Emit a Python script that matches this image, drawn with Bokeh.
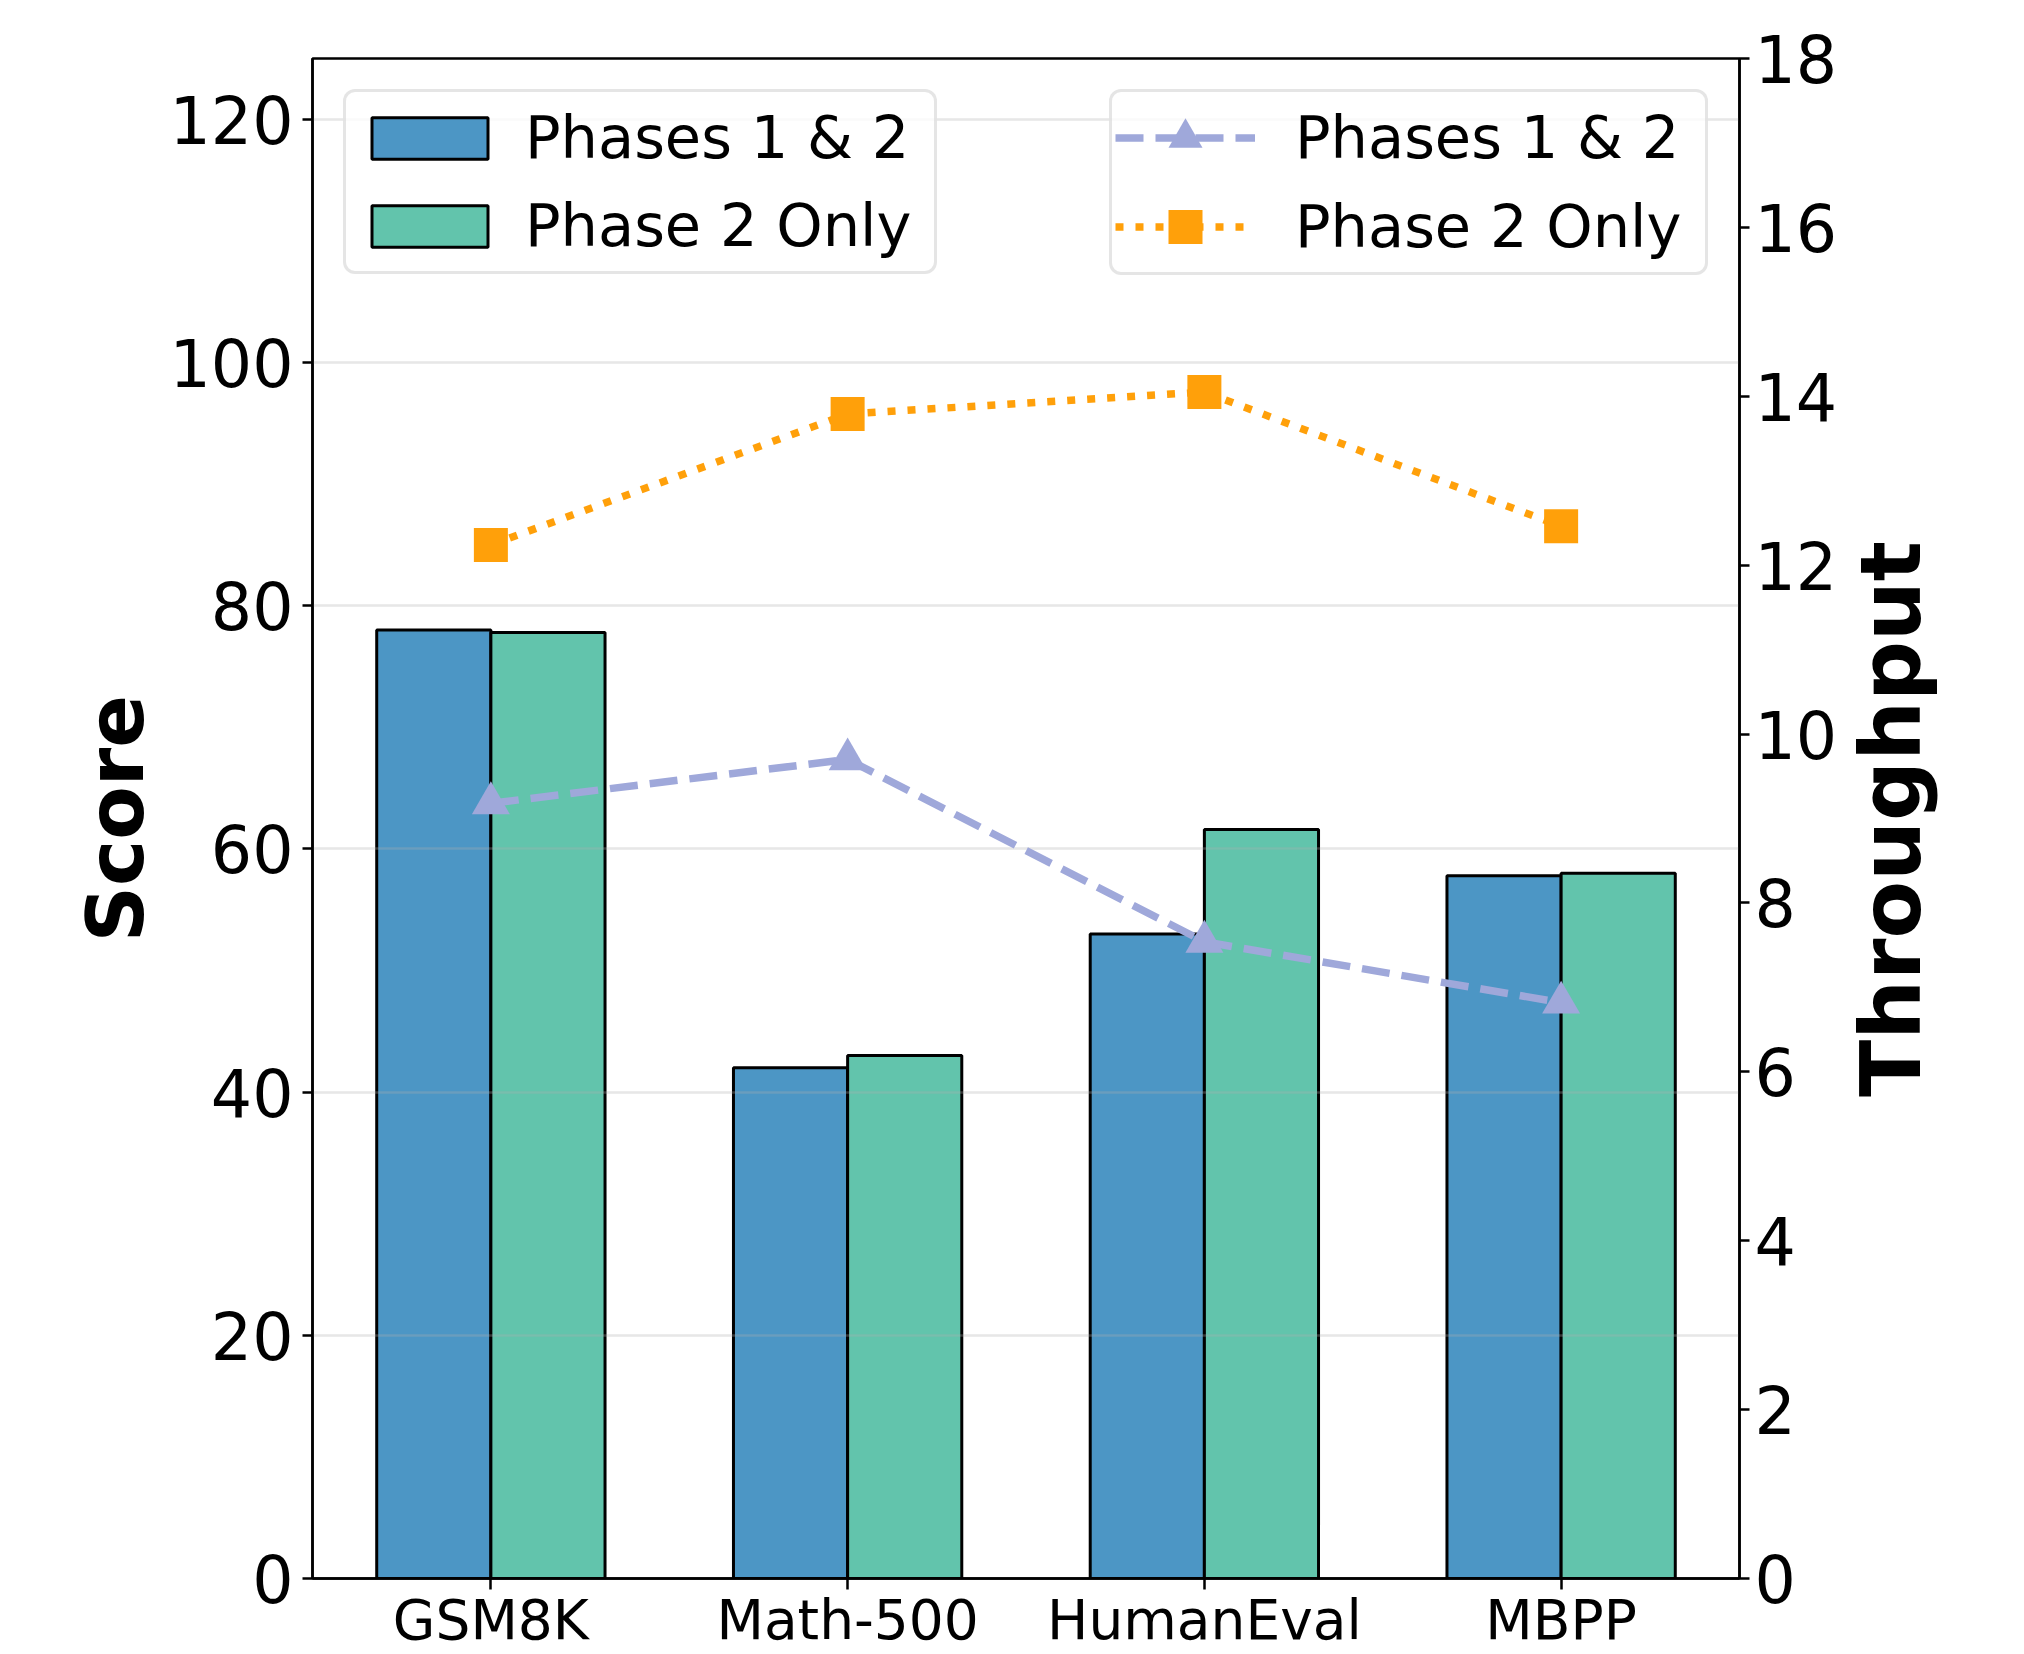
import math
from bokeh.plotting import figure
from bokeh.layouts import row
from bokeh.models import (Range1d, FactorRange, LinearAxis, Legend, LegendItem,
                          ColumnDataSource, FixedTicker, Label)
from bokeh.transform import dodge
from bokeh.embed import file_html
from bokeh.resources import INLINE

categories = ["GSM8K", "Math-500", "HumanEval", "MBPP"]
score_phases12 = [78.0, 42.0, 53.0, 57.8]
score_phase2 = [77.8, 43.0, 61.6, 58.0]
thr_phases12 = [9.18, 9.70, 7.54, 6.82]
thr_phase2 = [12.24, 13.79, 14.05, 12.46]
score_ticks = [0, 20, 40, 60, 80, 100, 120]
thr_ticks = [0, 2, 4, 6, 8, 10, 12, 14, 16, 18]
series_labels = ["Phases 1 & 2", "Phase 2 Only"]

FONT = "DejaVu Sans"
BLUE = "#4c96c5"
GREEN = "#62c4ac"
LAVENDER = "#9fa8da"
ORANGE = "#ffa00a"

src = ColumnDataSource(dict(cat=categories, s12=score_phases12, s2=score_phase2,
                            t12=thr_phases12, t2=thr_phase2))

W, H = 1840, 1654
FRAME_L, FRAME_R, FRAME_T, FRAME_B = 312, 1742, 58, 1581
p = figure(width=W, height=H,
           x_range=FactorRange(*categories, range_padding=0, factor_padding=0),
           y_range=Range1d(0, 125),
           output_backend="svg", toolbar_location=None,
           min_border_left=FRAME_L, min_border_right=W - FRAME_R,
           min_border_top=FRAME_T, min_border_bottom=H - FRAME_B)
p.extra_y_ranges = {"thr": Range1d(0, 18)}

p.outline_line_color = "black"
p.outline_line_width = 2.5
p.background_fill_color = "white"

# bars
r1 = p.vbar(x=dodge("cat", -0.16, range=p.x_range), top="s12", width=0.32, source=src,
            fill_color=BLUE, line_color="black", line_width=3, level="underlay")
r2 = p.vbar(x=dodge("cat", 0.16, range=p.x_range), top="s2", width=0.32, source=src,
            fill_color=GREEN, line_color="black", line_width=3, level="underlay")

# lines
l1 = p.line(x="cat", y="t12", source=src, y_range_name="thr", line_color=LAVENDER,
            line_width=7.5, line_dash="28 12", level="guide")
m1 = p.scatter(x="cat", y="t12", source=src, y_range_name="thr", marker="triangle",
               size=38, fill_color=LAVENDER, line_color=LAVENDER, line_width=0, level="guide")
l2 = p.line(x="cat", y="t2", source=src, y_range_name="thr", line_color=ORANGE,
            line_width=7.5, line_dash="8 12", level="guide")
m2 = p.scatter(x="cat", y="t2", source=src, y_range_name="thr", marker="square",
               size=34, fill_color=ORANGE, line_color=ORANGE, line_width=0, level="guide")

# grid
p.xgrid.visible = False
p.ygrid.ticker = FixedTicker(ticks=score_ticks)
p.ygrid.grid_line_color = "#b0b0b0"
p.ygrid.grid_line_alpha = 0.3
p.ygrid.grid_line_width = 2.5
p.ygrid.level = "glyph"

# left axis
ax_l = p.left[0]
ax_l.ticker = FixedTicker(ticks=score_ticks)
ax_l.axis_label = "Score"
ax_l.axis_label_text_font = FONT
ax_l.axis_label_text_font_style = "bold"
ax_l.axis_label_text_font_size = "78px"
ax_l.axis_label_text_color = "black"
ax_l.axis_label_standoff = 5
ax_l.major_label_text_font = FONT
ax_l.major_label_text_font_size = "65px"
ax_l.major_label_text_color = "black"
ax_l.major_label_standoff = 9

# right axis
ax_r = LinearAxis(y_range_name="thr", ticker=FixedTicker(ticks=thr_ticks))
ax_r.major_label_text_font = FONT
ax_r.major_label_text_font_size = "65px"
ax_r.major_label_text_color = "black"
ax_r.major_label_standoff = 5
p.add_layout(ax_r, "right")

for ax in (ax_l, ax_r):
    ax.axis_line_width = 2.5
    ax.axis_line_color = "black"
    ax.major_tick_line_width = 2.5
    ax.major_tick_line_color = "black"
    ax.major_tick_out = 10
    ax.major_tick_in = 0
    ax.minor_tick_line_color = None

# x axis
ax_b = p.below[0]
ax_b.major_label_text_font = FONT
ax_b.major_label_text_font_size = "55px"
ax_b.major_label_text_color = "black"
ax_b.major_label_standoff = -2
ax_b.axis_line_width = 2.5
ax_b.major_tick_line_width = 2.5
ax_b.major_tick_out = 11
ax_b.major_tick_in = 0
ax_b.minor_tick_line_color = None


def style_legend(lg, pad, gw, gh, standoff, spacing, label_w):
    lg.label_text_font = FONT
    lg.label_text_font_size = "59px"
    lg.label_text_color = "black"
    lg.glyph_width = gw
    lg.glyph_height = gh
    lg.label_standoff = standoff
    lg.label_width = label_w
    lg.padding = pad
    lg.spacing = spacing
    lg.margin = 31
    lg.border_line_color = "#cccccc"
    lg.border_line_width = 3
    lg.background_fill_color = "white"
    lg.background_fill_alpha = 0.8
    if "border_radius" in Legend.properties():
        lg.border_radius = 12


leg_bars = Legend(items=[LegendItem(label=series_labels[0], renderers=[r1]),
                         LegendItem(label=series_labels[1], renderers=[r2])],
                  location="top_left")
style_legend(leg_bars, 11, 145, 52, 23, 19, 398)
leg_lines = Legend(items=[LegendItem(label=series_labels[0], renderers=[l1, m1]),
                          LegendItem(label=series_labels[1], renderers=[l2, m2])],
                   location="top_right")
style_legend(leg_lines, 3, 140, 85, 40, 4, 407)
p.add_layout(leg_bars)
p.add_layout(leg_lines)

# narrow strip on the right carrying the right-axis title (reads bottom to top)
W2 = 120
p2 = figure(width=W2, height=H, x_range=Range1d(0, 1), y_range=Range1d(0, 1),
            x_axis_type=None, y_axis_type=None,
            output_backend="svg", toolbar_location=None, min_border=0)
p2.outline_line_color = None
p2.xgrid.visible = False
p2.ygrid.visible = False
thr_title = Label(x=1890 - W, y=H - (FRAME_T + FRAME_B) / 2 - 75,
                  x_units="screen", y_units="screen",
                  text="Throughput", angle=90, angle_units="deg",
                  text_align="center", text_baseline="middle",
                  text_font=FONT, text_font_size="84px", text_font_style="bold",
                  text_color="black")
p2.add_layout(thr_title)

layout = row(p, p2)
open("out.html", "w").write(file_html(layout, INLINE))
